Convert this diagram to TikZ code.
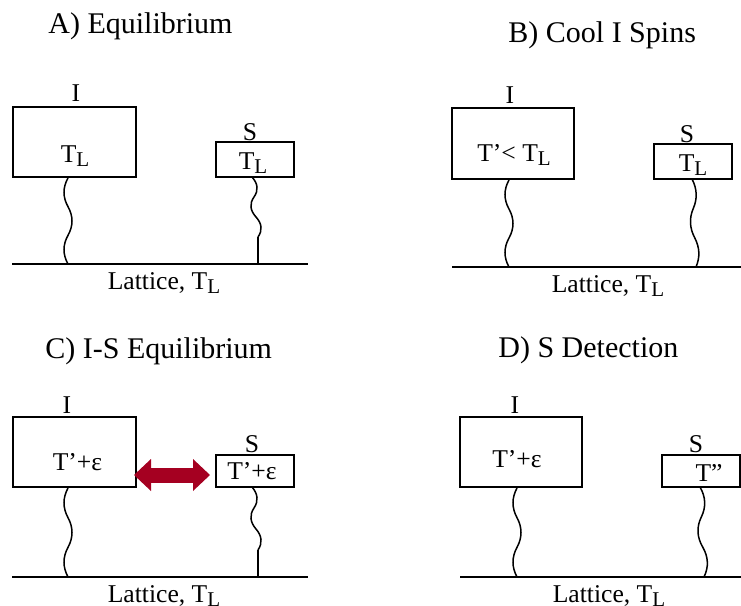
\documentclass[tikz,border=0pt]{standalone}
\usepackage{fontspec}
\setmainfont{Liberation Serif}
\usepackage{tikz}
\usetikzlibrary{
	arrows.meta,
	calc,
	positioning
}
\definecolor{heatred}{HTML}{A50021}
% lowered subscript as in the slides
\newcommand\lsub[1]{\raisebox{-2.2pt}{\fontsize{10.5}{12}\selectfont #1}}

\begin{document}
\begin{tikzpicture}[x=0.5pt, y=-0.5pt,
    title/.style={font=\fontsize{15}{18}\selectfont, anchor=base west, inner sep=0pt},
    lbl/.style={font=\fontsize{12.8}{15}\selectfont, anchor=base, inner sep=0pt},
    ibox/.style={draw, line width=1pt, minimum width=61.5pt, minimum height=35pt, inner sep=0pt},
    sbox/.style={draw, line width=1pt, minimum width=39pt, minimum height=17.5pt, inner sep=0pt},
    lattice/.style={line width=1.3pt},
    wire/.style={line width=0.75pt},
    heat/.style={draw=heatred, line width=7.5pt,
        {Triangle[length=8.5pt, width=16pt, line width=0pt]}-{Triangle[length=8.5pt, width=16pt, line width=0pt]}}
]
\useasboundingbox (0, 0) rectangle (741, 606);

% Helper macro for a wavy thermal link (1.5 periods)
% Arguments: top coordinate, bottom coordinate, amplitude (+ = first to the right)
\def\wiggle#1#2#3{
    \draw[wire] (#1)
        .. controls ($(#1)!1/9!(#2)+(#3*4/3,0)$) and ($(#1)!2/9!(#2)+(#3*4/3,0)$) .. ($(#1)!1/3!(#2)$)
        .. controls ($(#1)!4/9!(#2)-(#3*4/3,0)$) and ($(#1)!5/9!(#2)-(#3*4/3,0)$) .. ($(#1)!2/3!(#2)$)
        .. controls ($(#1)!7/9!(#2)+(#3*4/3,0)$) and ($(#1)!8/9!(#2)+(#3*4/3,0)$) .. (#2);
}

% ---------- A) Equilibrium ----------
\node[title] (aT) at (48, 33) {A) Equilibrium};
\node[ibox] (aI) at (74.5, 142) {};
\node[sbox] (aS) at (255, 159.5) {};
\node[lbl] (aIl) at (76, 101) {I};
\node[lbl] (aSl) at (250, 140) {S};
\node[lbl] (aIt) at (75, 162) {T\lsub{L}};
\node[lbl] (aSt) at (253, 169) {T\lsub{L}};
\coordinate (aL1) at (12, 264);
\coordinate (aL2) at (308, 264);
\draw[lattice] (aL1) -- (aL2);
\node[lbl] (aLl) at (164, 289) {Lattice, T\lsub{L}};
\coordinate (aIdn) at (68, 264);
\coordinate (aIup) at (aI.south -| aIdn);
\wiggle{aIup}{aIdn}{-4}
\coordinate (aSup) at (252, 177);
\coordinate (aSk) at (258, 237);
\coordinate (aSdn) at (258, 264);
\wiggle{aSup}{aSk}{4}
\draw[wire] (aSk) -- (aSdn);

% ---------- B) Cool I Spins ----------
\node[title] (bT) at (508, 42) {B) Cool I Spins};
\node[ibox, minimum width=61pt, minimum height=35.5pt] (bI) at (513, 143.5) {};
\node[sbox] (bS) at (692.5, 161.5) {};
\node[lbl] (bIl) at (510, 103) {I};
\node[lbl] (bSl) at (687, 142) {S};
\node[lbl] (bIt) at (514, 161) {T'< T\lsub{L}};
\node[lbl] (bSt) at (693, 171) {T\lsub{L}};
\coordinate (bL1) at (452, 267);
\coordinate (bL2) at (741, 267);
\draw[lattice] (bL1) -- (bL2);
\node[lbl] (bLl) at (608, 292) {Lattice, T\lsub{L}};
\coordinate (bIdn) at (509, 267);
\coordinate (bIup) at (bI.south -| bIdn);
\wiggle{bIup}{bIdn}{-4}
\coordinate (bSup) at (692, 179);
\coordinate (bSdn) at (696, 267);
\wiggle{bSup}{bSdn}{3.5}

% ---------- C) I-S Equilibrium ----------
\node[title] (cT) at (45, 358) {C) I-S Equilibrium};
\node[ibox] (cI) at (74.5, 452) {};
\node[sbox, minimum height=16pt] (cS) at (255, 471) {};
\node[lbl] (cIl) at (67, 413) {I};
\node[lbl] (cSl) at (252, 452) {S};
\node[lbl] (cIt) at (77.5, 470) {T'+ε};
\node[lbl] (cSt) at (252, 479) {T'+ε};
\coordinate (cH) at (174, 475);
\draw[heat, shorten <=-1.5pt, shorten >=2.5pt] (cI.east |- cH) -- (cS.west |- cH);
\coordinate (cL1) at (12, 577);
\coordinate (cL2) at (308, 577);
\draw[lattice] (cL1) -- (cL2);
\node[lbl] (cLl) at (164, 602) {Lattice, T\lsub{L}};
\coordinate (cIdn) at (68, 577);
\coordinate (cIup) at (cI.south -| cIdn);
\wiggle{cIup}{cIdn}{-4}
\coordinate (cSup) at (252, 487);
\coordinate (cSk) at (258, 550);
\coordinate (cSdn) at (258, 577);
\wiggle{cSup}{cSk}{4}
\draw[wire] (cSk) -- (cSdn);

% ---------- D) S Detection ----------
\node[title] (dT) at (498, 357) {D) S Detection};
\node[ibox, minimum width=61pt] (dI) at (521, 452) {};
\node[sbox, minimum height=16pt] (dS) at (701, 471) {};
\node[lbl] (dIl) at (515, 413) {I};
\node[lbl] (dSl) at (696, 452) {S};
\node[lbl] (dIt) at (517, 467) {T'+ε};
\node[lbl] (dSt) at (709, 481) {T''};
\coordinate (dL1) at (460, 577);
\coordinate (dL2) at (741, 577);
\draw[lattice] (dL1) -- (dL2);
\node[lbl] (dLl) at (609, 602) {Lattice, T\lsub{L}};
\coordinate (dIdn) at (517, 577);
\coordinate (dIup) at (dI.south -| dIdn);
\wiggle{dIup}{dIdn}{-4}
\coordinate (dSup) at (700, 487);
\coordinate (dSdn) at (704, 577);
\wiggle{dSup}{dSdn}{4}

\end{tikzpicture}
\end{document}
